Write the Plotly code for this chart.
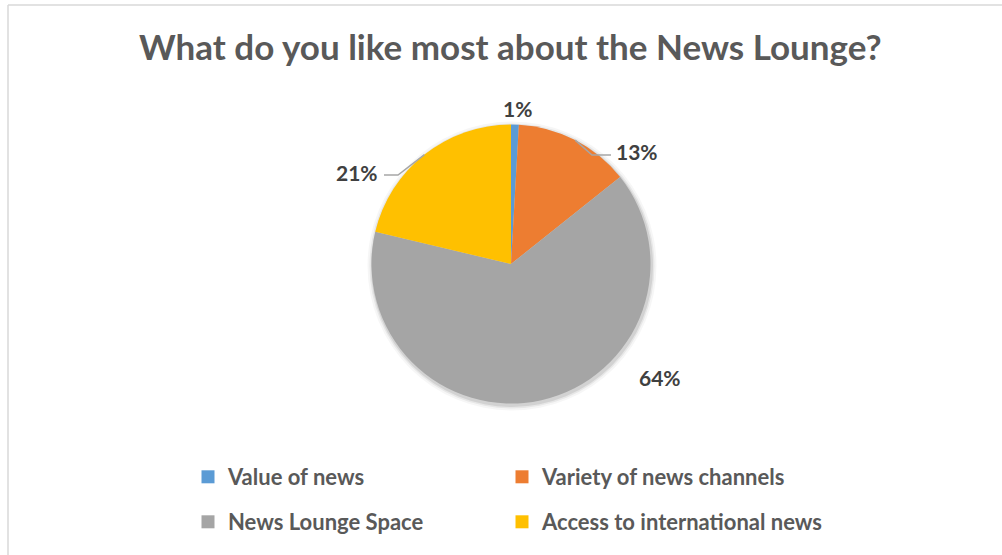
import math
import plotly.graph_objects as go

# ---- data ----
labels = ["Value of news", "Variety of news channels", "News Lounge Space", "Access to international news"]
values = [0.9, 13.4, 64.4, 21.3]
colors = ["#5B9BD5", "#ED7D31", "#A5A5A5", "#FFC000"]
title_text = "What do you like most about the News Lounge?"

# ---- layout constants (pixels) ----
W, H = 1002, 555
CX, CY, R = 511, 264, 139.5
FONT = "Lato"
# label centres (px) and optional leader line (elbow, end)
label_pos = [(517, 108), (637, 151), (660, 377), (357, 172)]
leaders = [None, ((592, 155), (611, 155)), None, ((398, 175), (384, 175))]
# legend slot (x, y) in px for each entry
legend_slots = [(188, 477), (502, 477), (188, 522), (502, 522)]


def dom(cx, cy, r):
    return dict(x=[(cx - r) / W, (cx + r) / W], y=[1 - (cy + r) / H, 1 - (cy - r) / H])


fig = go.Figure()

# soft shadow behind the pie
for dr, alpha in [(5, 0.035), (3, 0.06), (1.5, 0.09)]:
    fig.add_trace(go.Pie(values=[1], labels=["s"], marker=dict(colors=[f"rgba(0,0,0,{alpha})"]),
                         domain=dom(CX + 1, CY + 2, R + dr), textinfo="none", hoverinfo="skip",
                         showlegend=False, sort=False))

fig.add_trace(go.Pie(
    labels=labels, values=values, sort=False, direction="clockwise", rotation=0,
    marker=dict(colors=colors, line=dict(width=0)),
    textinfo="none", showlegend=False, domain=dom(CX, CY, R),
))

# legend entries, one legend box per slot
legend_layout = {}
for i, (lab, col) in enumerate(zip(labels, colors)):
    key = "legend" if i == 0 else f"legend{i + 1}"
    fig.add_trace(go.Scatter(x=[None], y=[None], mode="markers", name=lab,
                             marker=dict(symbol="square", size=13, color=col), legend=key))
    lx, ly = legend_slots[i]
    legend_layout[key] = dict(orientation="h", xanchor="left", x=lx / W, yanchor="middle", y=1 - ly / H,
                              bgcolor="rgba(0,0,0,0)",
                              font=dict(family=FONT, size=22, color="#595959", weight="bold"))

total = sum(values)
annotations = []
shapes = []
cum = 0.0
for i, v in enumerate(values):
    mid = (cum + v / 2) / total * 2 * math.pi
    cum += v
    ex, ey = CX + R * math.sin(mid), CY - R * math.cos(mid)
    lx, ly = label_pos[i]
    annotations.append(dict(x=lx, y=ly, xref="x", yref="y", text=f"{round(v / total * 100)}%",
                            showarrow=False, font=dict(family=FONT, size=21, color="#404040", weight="bold")))
    if leaders[i]:
        (bx, by), (tx, ty) = leaders[i]
        shapes.append(dict(type="path", xref="x", yref="y",
                           path=f"M{ex},{ey} L{bx},{by} L{tx},{ty}",
                           line=dict(color="#A6A6A6", width=1.5)))

annotations.append(dict(x=510, y=46, xref="x", yref="y", text=title_text, showarrow=False,
                        font=dict(family=FONT, size=35, color="#595959", weight="bold")))

shapes += [
    dict(type="line", xref="x", yref="y", x0=8, y0=5, x1=W, y1=5, line=dict(color="#D9D9D9", width=1.5)),
    dict(type="line", xref="x", yref="y", x0=8, y0=5, x1=8, y1=H, line=dict(color="#D9D9D9", width=1.5)),
]

fig.update_layout(
    width=W, height=H, margin=dict(l=0, r=0, t=0, b=0),
    paper_bgcolor="white", plot_bgcolor="white",
    xaxis=dict(range=[0, W], visible=False, fixedrange=True),
    yaxis=dict(range=[H, 0], visible=False, fixedrange=True),
    annotations=annotations, shapes=shapes,
    showlegend=True,
    **legend_layout,
)

fig.write_html("out.html")
